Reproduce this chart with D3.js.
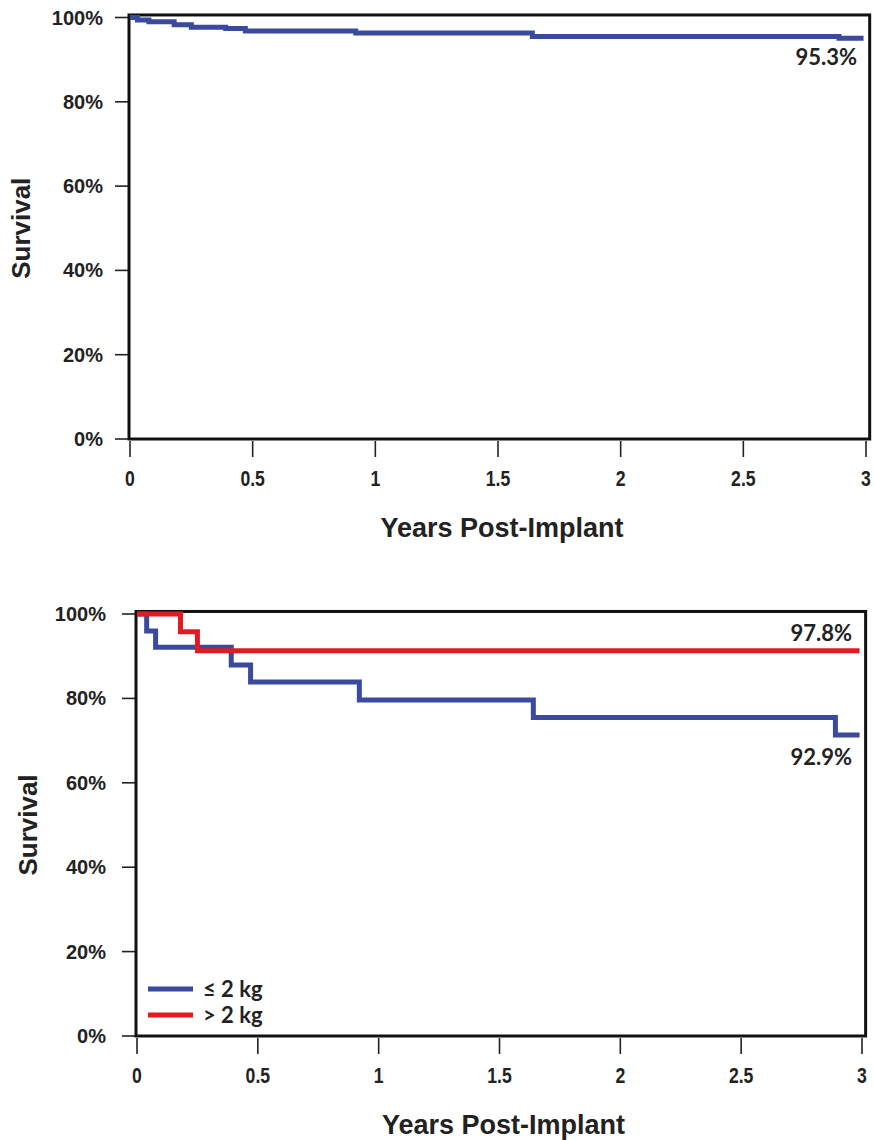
<!DOCTYPE html>
<html>
<head>
<meta charset="utf-8">
<script src="https://cdn.jsdelivr.net/npm/d3@7"></script>
<style>
  body { margin: 0; background: #fff; }
  svg { display: block; }
</style>
</head>
<body>
<div id="chartarea"></div>
<script>
// values (years, survival %)
const xTicks = [0, 0.5, 1, 1.5, 2, 2.5, 3];
const yTicks = [0, 20, 40, 60, 80, 100];

const allTimes = [0, 0.03, 0.077, 0.18, 0.25, 0.39, 0.47, 0.92, 1.64, 2.89, 2.99];
const allSurv = [100, 99.4, 99.0, 98.3, 97.7, 97.4, 96.8, 96.3, 95.5, 95.1, 95.1];

const lowTimes = [0, 0.04, 0.077, 0.39, 0.47, 0.92, 1.64, 2.89, 2.99];
const lowSurv = [100, 96.0, 92.1, 87.9, 83.9, 79.6, 75.5, 71.3, 71.3];

const highTimes = [0, 0.18, 0.25, 2.99];
const highSurv = [100, 95.8, 91.3, 91.3];

const legendLabels = ['\u2264 2 kg', '> 2 kg'];
const blue = '#3a4a9d';
const red = '#e41a22';

const axisFont = '"Liberation Sans", Arial, sans-serif';
const noteFont = 'Lato, "Open Sans", sans-serif';

const svg = d3.select('#chartarea')
  .append('svg')
    .attr('width', 874)
    .attr('height', 1140);

const drawPanel = (p) => {
  const x = d3.scaleLinear().domain([0, 3]).range([p.x0, p.x3]);
  const y = d3.scaleLinear().domain([0, 100]).range([p.y0, p.y100]);
  const g = svg.append('g');

  // y axis ticks + labels
  g.selectAll('.ytick')
    .data(yTicks)
    .enter().append('line')
      .attr('x1', x(0) - 15)
      .attr('x2', x(0))
      .attr('y1', d => y(d))
      .attr('y2', d => y(d))
      .attr('stroke', '#222')
      .attr('stroke-width', 1.6);

  g.selectAll('.ylab')
    .data(yTicks)
    .enter().append('text')
      .attr('x', x(0) - p.ylabGap)
      .attr('y', d => y(d))
      .attr('dy', '0.35em')
      .attr('text-anchor', 'end')
      .attr('font-family', axisFont)
      .attr('font-weight', 'bold')
      .attr('font-size', 20)
      .attr('fill', '#222')
      .text(d => d + '%');

  // x axis ticks + labels (narrow, tall glyphs)
  g.selectAll('.xtick')
    .data(xTicks)
    .enter().append('line')
      .attr('x1', d => x(d))
      .attr('x2', d => x(d))
      .attr('y1', y(0) + 2)
      .attr('y2', y(0) + 18)
      .attr('stroke', '#222')
      .attr('stroke-width', 1.6);

  g.selectAll('.xlab')
    .data(xTicks)
    .enter().append('text')
      .attr('transform', d => `translate(${x(d)}, ${y(0) + 47}) scale(0.8, 1)`)
      .attr('text-anchor', 'middle')
      .attr('font-family', axisFont)
      .attr('font-weight', 'bold')
      .attr('font-size', 22)
      .attr('fill', '#222')
      .text(d => d);

  // axis titles
  g.append('text')
    .attr('x', (x(0) + x(3)) / 2 + 4)
    .attr('y', y(0) + 98)
    .attr('text-anchor', 'middle')
    .attr('font-family', axisFont)
    .attr('font-weight', 'bold')
    .attr('font-size', 27)
    .attr('fill', '#222')
    .text('Years Post-Implant');

  g.append('text')
    .attr('transform', `translate(${p.ytitleX}, ${y(50)}) rotate(-90)`)
    .attr('text-anchor', 'middle')
    .attr('font-family', axisFont)
    .attr('font-weight', 'bold')
    .attr('font-size', 26)
    .attr('fill', '#222')
    .text('Survival');

  // frame
  g.append('rect')
    .attr('x', x(0) - 1)
    .attr('y', y(100.6))
    .attr('width', x(3.015) - x(0) + 1)
    .attr('height', y(0) - y(100.6))
    .attr('fill', 'none')
    .attr('stroke', '#111')
    .attr('stroke-width', 3);

  const line = d3.line()
    .x(d => x(d[0]))
    .y(d => y(d[1]))
    .curve(d3.curveStepAfter);

  p.series.forEach(s => {
    g.append('path')
      .datum(d3.zip(s.times, s.surv))
      .attr('d', line)
      .attr('fill', 'none')
      .attr('stroke', s.color)
      .attr('stroke-width', 5)
      .attr('stroke-linejoin', 'miter');
  });

  p.notes.forEach(n => {
    g.append('text')
      .attr('x', n.x)
      .attr('y', y(n.at))
      .attr('dy', '0.35em')
      .attr('text-anchor', 'end')
      .attr('font-family', noteFont)
      .attr('font-weight', 'bold')
      .attr('font-size', 22)
      .attr('fill', '#222')
      .text(n.text);
  });

  return { x, y, g };
};

// top panel: all patients
drawPanel({
  x0: 130, x3: 866, y0: 439, y100: 17.5,
  ylabGap: 27, ytitleX: 30,
  series: [{ times: allTimes, surv: allSurv, color: blue }],
  notes: [{ text: '95.3%', x: 857, at: 90.6 }]
});

// bottom panel: by weight
const bottom = drawPanel({
  x0: 137, x3: 862, y0: 1036, y100: 614,
  ylabGap: 31, ytitleX: 37,
  series: [
    { times: lowTimes, surv: lowSurv, color: blue },
    { times: highTimes, surv: highSurv, color: red }
  ],
  notes: [
    { text: '97.8%', x: 852, at: 95.5 },
    { text: '92.9%', x: 852, at: 66.1 }
  ]
});

// legend
const legend = bottom.g.append('g');
[blue, red].forEach((c, i) => {
  const ly = 989 + i * 26;
  legend.append('line')
    .attr('x1', 148).attr('x2', 193)
    .attr('y1', ly).attr('y2', ly)
    .attr('stroke', c)
    .attr('stroke-width', 5);
  legend.append('text')
    .attr('x', 203)
    .attr('y', ly)
    .attr('dy', '0.35em')
    .attr('font-family', noteFont)
    .attr('font-weight', 'bold')
    .attr('font-size', 22)
    .attr('fill', '#222')
    .text(legendLabels[i]);
});
</script>
</body>
</html>
